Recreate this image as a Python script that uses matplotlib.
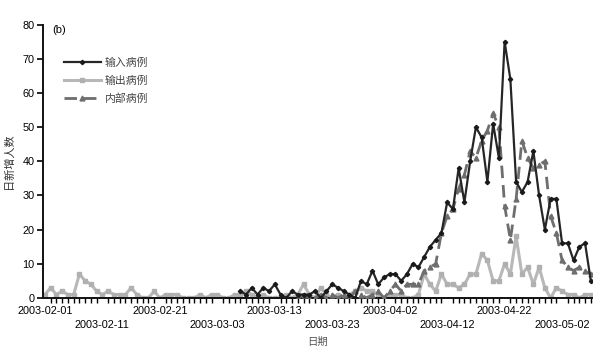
import numpy as np
import pandas as pd
import matplotlib
matplotlib.use("Agg")
import matplotlib.pyplot as plt

plt.rcParams['font.family'] = ['Liberation Sans', 'Noto Sans CJK SC']

dates = pd.date_range("2003-02-01", periods=96, freq="D")

# 输入病例 (starts 2003-03-07)
imported = [np.nan] * 34 + [
    2, 1, 3, 1, 3, 2, 4, 1, 0, 2, 1, 1, 1, 2, 0, 2, 4, 3, 2, 1, 0,
    5, 4, 8, 4, 6, 7, 7, 5, 7, 10, 9, 12, 15, 17, 19, 28, 26,
    38, 28, 40, 50, 47, 34, 51, 41, 75, 64, 34, 31, 34, 43, 30, 20,
    29, 29, 16, 16, 11, 15, 16, 5]

# 输出病例
exported = [
    1, 3, 1, 2, 1, 1, 7, 5, 4, 2, 1, 2, 1, 1, 1, 3, 1, 0, 0, 2, 0, 1, 1, 1,
    0, 0, 0, 1, 0, 1, 1, 0, 0, 1, 1, 2,
    1, 0, 1, 0, 0, 0, 1, 0, 1, 4, 1, 0, 3, 1, 0, 1, 0, 1, 2,
    3, 2, 2, 1, 0, 1, 1, 1, 0, 0, 1, 7, 4, 2, 7, 4, 4, 3, 4, 7, 7,
    13, 11, 5, 5, 10, 7, 18, 7, 9, 4, 9, 3, 0, 3, 2, 1, 1, 0, 1, 1]

# 内部病例 (starts 2003-03-17)
local = [np.nan] * 44 + [
    0, 1, 0, 0, 1, 0, 1, 0, 1, 0, 2, 1, 0, 1, 2, 0, 2, 4, 2, 4, 4, 4,
    8, 9, 10, 19, 24, 26, 32, 36, 43, 41, 46, 49, 54, 50, 27, 17, 29,
    46, 41, 38, 39, 40, 24, 19, 11, 9, 8, 9, 8, 7]

series_names = ['输入病例', '输出病例', '内部病例']

fig = plt.figure(figsize=(6, 3.55), dpi=100)
ax = fig.add_axes([0.0717, 0.1606, 0.915, 0.77])

ax.plot(dates, exported, color='#b8b8b8', lw=2.2, marker='s', ms=3.5,
        mec='#b0b0b0', mfc='#b0b0b0', label=series_names[1], zorder=2)
ax.plot(dates, local, color='#6e6e6e', lw=2.0, ls=(0, (4.5, 2.5)), marker='^', ms=3.5,
        mec='#6e6e6e', mfc='#6e6e6e', label=series_names[2], zorder=3)
ax.plot(dates, imported, color='#262626', lw=1.6, marker='D', ms=2.2,
        mec='#1a1a1a', mfc='#1a1a1a', label=series_names[0], zorder=4)

ax.set_ylim(0, 80)
ax.set_yticks(range(0, 81, 10))
ax.set_xlim(dates[0] - pd.Timedelta(hours=8), dates[-1] + pd.Timedelta(hours=5))

major = dates[::10]
ax.set_xticks(major)
ax.set_xticklabels([d.strftime('%Y-%m-%d') if i % 2 == 0 else '\n' + d.strftime('%Y-%m-%d')
                    for i, d in enumerate(major)], linespacing=1.45)
ax.set_xticks(dates, minor=True)

for s in ['top', 'right']:
    ax.spines[s].set_visible(False)
for s in ['left', 'bottom']:
    ax.spines[s].set_linewidth(1.4)
    ax.spines[s].set_color('#111111')

ax.tick_params(axis='y', direction='out', length=4, width=1.2, labelsize=7.8, pad=2)
ax.tick_params(axis='x', which='major', direction='in', length=0, labelsize=7.8, pad=6)
ax.tick_params(axis='x', which='minor', direction='out', length=3.5, width=1.0)

ax.set_ylabel('日新增人数', fontsize=8, color='#333333', labelpad=6)
ax.set_xlabel('日期', fontsize=7.5, color='#555555', labelpad=5)
ax.text(0.016, 1.0, '(b)', transform=ax.transAxes, fontsize=8, va='top')

handles, labels = ax.get_legend_handles_labels()
order = [2, 0, 1]
leg = ax.legend([handles[i] for i in order], [labels[i] for i in order],
                loc='upper left', bbox_to_anchor=(0.02, 0.915), frameon=False,
                fontsize=7.8, handlelength=3.4, labelspacing=0.7, handletextpad=0.4)
for t in leg.get_texts():
    t.set_color('#444444')

fig.savefig('out.png', dpi=100)
